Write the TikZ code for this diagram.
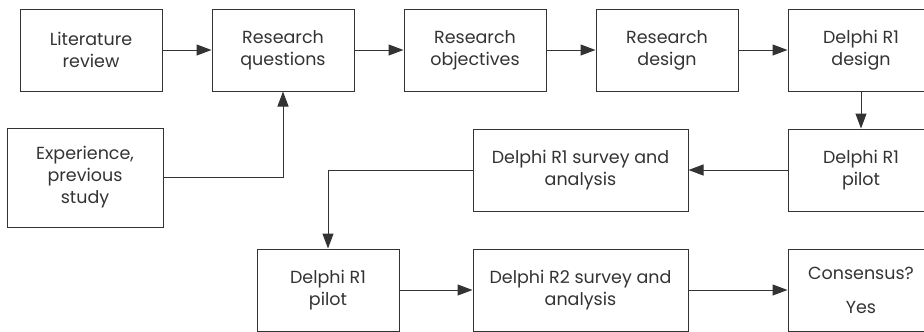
\documentclass[tikz,border=0pt]{standalone}
\usepackage{fontspec}
\setmainfont{Poppins}
\usetikzlibrary{arrows.meta, positioning}
\definecolor{ink}{HTML}{333333}

\begin{document}
\begin{tikzpicture}[x=1pt, y=1pt, font=\fontsize{17.5}{22}\selectfont, node distance=49pt]
  \tikzset{
    stage/.style={draw=ink, text=ink, line width=1pt, minimum width=142pt, minimum height=82pt, align=center, inner sep=0pt},
    wide/.style={stage, minimum width=215pt},
    flow/.style={draw=ink, line width=1pt, -{Triangle[length=15pt, width=11pt]}}
  }
  \useasboundingbox (0,0) rectangle (924,-332);
  \clip (0,0) rectangle (924,-332);
  % top row
  \node[stage] (lit) at (91,-50) {Literature\\review};
  \node[stage, right=of lit] (rq) {Research\\questions};
  \node[stage, right=of rq] (ro) {Research\\objectives};
  \node[stage, right=of ro] (rd) {Research\\design};
  \node[stage, minimum width=146pt, right=of rd] (dd) {Delphi R1\\design};
  \node[stage, minimum width=156pt, minimum height=99pt] (exp) at (85,-177.5) {Experience,\\previous\\study};
  % second row
  \node[stage, minimum width=146pt, below=37pt of dd] (dp) {Delphi R1\\pilot};
  \node[wide, left=99pt of dp] (ds) {Delphi R1 survey and\\analysis};
  % third row
  \node[stage, minimum width=146pt, below=37pt of dp] (cs) {Consensus?\\[12pt]Yes};
  \node[wide, left=99pt of cs] (rs) {Delphi R2 survey and\\analysis};
  \node[stage, left=73pt of rs] (rp) {Delphi R1\\pilot};
  % connectors
  \draw[flow] (lit) -- (rq);
  \draw[flow] (rq) -- (ro);
  \draw[flow] (ro) -- (rd);
  \draw[flow] (rd) -- (dd);
  \draw[flow] (exp.east) -| (rq.south);
  \draw[flow] (dd) -- (dp);
  \draw[flow] (dp) -- (ds);
  \draw[flow] (ds.west) -| (rp.north);
  \draw[flow] (rp) -- (rs);
  \draw[flow] (rs) -- (cs);
\end{tikzpicture}
\end{document}
